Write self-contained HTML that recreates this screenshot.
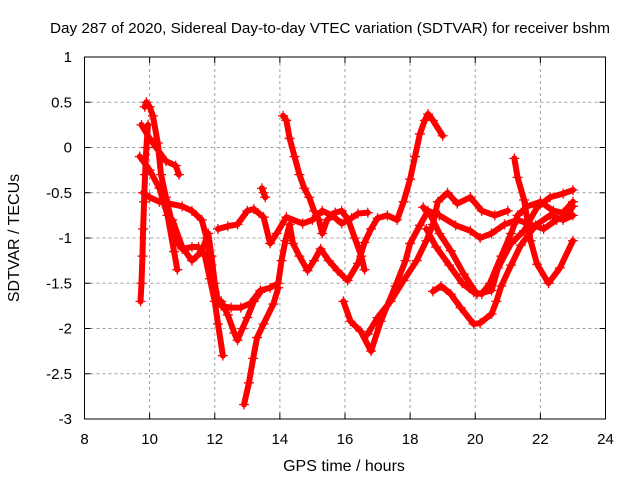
<!DOCTYPE html>
<html><head><meta charset="utf-8"><style>
body{margin:0;background:#fff;width:640px;height:480px;overflow:hidden}
svg{display:block;font-family:"Liberation Sans",sans-serif}
</style></head><body>
<svg id="chart" width="640" height="480">
<text x="330" y="33" font-size="15" text-anchor="middle" textLength="560" lengthAdjust="spacingAndGlyphs">Day 287 of 2020, Sidereal Day-to-day VTEC variation (SDTVAR) for receiver bshm</text>
<g id="grid"></g>
<g id="series"></g>
<rect x="84.5" y="57" width="521" height="362" fill="none" stroke="#000" stroke-width="1"/>
<g id="ticks"></g>
<text x="344" y="471" font-size="16" text-anchor="middle">GPS time / hours</text>
<text x="0" y="0" font-size="16" text-anchor="middle" transform="translate(19,238) rotate(-90)">SDTVAR / TECUs</text>
</svg>
<script>
const xTicks = [8,10,12,14,16,18,20,22,24];
const yTicks = [1,0.5,0,-0.5,-1,-1.5,-2,-2.5,-3];
const yTickLabels = ["1","0.5","0","-0.5","-1","-1.5","-2","-2.5","-3"];
const trackEarlyVert = [[9.72,-1.7],[9.75,-1.5],[9.78,-1.2],[9.8,-0.9],[9.83,-0.6],[9.86,-0.3],[9.9,0.0],[9.95,0.25]];
const trackHighDecline = [[9.85,0.45],[9.9,0.5],[10.0,0.45],[10.1,0.35],[10.25,0.05],[10.35,-0.3],[10.5,-0.55],[10.7,-0.85],[10.85,-1.05],[11.0,-1.12],[11.3,-1.1],[11.5,-1.1],[11.7,-1.2],[11.85,-1.45],[12.0,-1.7],[12.1,-1.95],[12.25,-2.3]];
const trackEarlyA = [[9.75,0.25],[10.0,0.1],[10.2,0.0],[10.5,-0.15],[10.8,-0.2],[10.9,-0.3]];
const trackEarlyB = [[9.7,-0.1],[10.0,-0.25],[10.3,-0.45],[10.55,-0.75],[10.75,-1.15],[10.85,-1.35]];
const trackLoop11 = [[10.7,-0.8],[11.0,-1.1],[11.3,-1.25],[11.6,-1.15],[11.8,-0.95],[11.9,-1.2],[12.0,-1.5],[12.1,-1.7]];
const trackMain = [[9.8,-0.5],[10.0,-0.55],[10.3,-0.6],[10.6,-0.62],[11.0,-0.65],[11.3,-0.7],[11.6,-0.8],[11.75,-1.0],[11.9,-1.3],[12.0,-1.6],[12.2,-1.75],[12.5,-1.77],[12.8,-1.77],[13.1,-1.72],[13.4,-1.58],[13.7,-1.55],[13.95,-1.5],[14.05,-1.25],[14.17,-1.03],[14.3,-0.85],[14.4,-1.06],[14.6,-1.2],[14.85,-1.36],[15.05,-1.25],[15.25,-1.12],[15.5,-1.25],[15.77,-1.36],[16.08,-1.47],[16.4,-1.28],[16.6,-1.05],[16.8,-0.9],[17.0,-0.78],[17.3,-0.75],[17.6,-0.8],[17.8,-0.6],[18.0,-0.35],[18.15,-0.1],[18.3,0.15],[18.45,0.3],[18.55,0.37],[18.7,0.3],[19.0,0.13]];
const trackMid = [[12.1,-0.9],[12.4,-0.87],[12.7,-0.85],[13.0,-0.7],[13.2,-0.68],[13.5,-0.77],[13.7,-1.06],[13.9,-0.95],[14.2,-0.77],[14.7,-0.84],[15.0,-0.8],[15.3,-0.7],[15.6,-0.75],[15.9,-0.84],[16.2,-0.78],[16.4,-0.73],[16.7,-0.72]];
const trackIsolated = [[13.45,-0.45],[13.5,-0.5],[13.55,-0.55]];
const trackDeep = [[12.9,-2.84],[13.05,-2.6],[13.18,-2.33],[13.3,-2.1],[13.5,-1.95],[13.8,-1.73],[13.95,-1.55]];
const trackDip127 = [[12.2,-1.7],[12.4,-1.85],[12.6,-2.05],[12.7,-2.13],[12.85,-2.0],[13.0,-1.88],[13.2,-1.7],[13.4,-1.6]];
const trackHigh14 = [[14.1,0.35],[14.2,0.3],[14.3,0.1],[14.45,-0.1],[14.6,-0.3],[14.75,-0.45],[14.9,-0.55],[15.05,-0.7],[15.2,-0.8],[15.3,-0.95],[15.45,-0.8],[15.7,-0.72],[15.9,-0.7],[16.1,-0.8],[16.3,-1.0],[16.5,-1.2],[16.6,-1.35]];
const trackDip167 = [[15.95,-1.7],[16.17,-1.92],[16.48,-2.03],[16.8,-2.25],[17.1,-1.92],[17.55,-1.53],[17.86,-1.25],[18.0,-1.06],[18.3,-0.86],[18.55,-0.7],[18.9,-0.75],[19.4,-0.86],[19.85,-0.92],[20.15,-1.0],[20.5,-0.95],[20.9,-0.85],[21.3,-0.8],[21.7,-0.85],[22.1,-0.9],[22.5,-0.8],[22.8,-0.75],[23.0,-0.65]];
const trackRise17 = [[16.7,-2.06],[17.0,-1.88],[17.4,-1.7],[17.8,-1.47],[18.2,-1.25],[18.5,-1.03],[18.7,-0.85],[18.85,-0.6],[19.15,-0.5],[19.45,-0.62],[19.85,-0.55],[20.2,-0.7],[20.6,-0.75],[21.0,-0.7]];
const trackBigV = [[18.4,-0.66],[18.6,-0.73],[18.9,-0.95],[19.25,-1.14],[19.65,-1.4],[20.05,-1.62],[20.5,-1.58],[20.7,-1.33],[21.1,-1.06],[21.5,-0.92],[21.9,-0.66],[22.3,-0.55],[22.7,-0.51],[23.0,-0.47]];
const trackV2 = [[18.5,-0.9],[18.8,-1.1],[19.2,-1.3],[19.6,-1.5],[19.95,-1.6],[20.2,-1.62],[20.45,-1.5],[20.8,-1.2],[21.1,-0.95],[21.3,-0.75],[21.6,-0.65],[22.0,-0.6],[22.4,-0.7],[22.7,-0.72],[23.0,-0.6]];
const trackLow19 = [[18.7,-1.59],[18.95,-1.53],[19.25,-1.62],[19.55,-1.77],[19.95,-1.95],[20.15,-1.94],[20.5,-1.84],[20.65,-1.7],[20.8,-1.53],[21.1,-1.3],[21.4,-1.08],[21.85,-0.86],[22.3,-0.75],[22.7,-0.8],[23.0,-0.75]];
const trackPeak21 = [[21.2,-0.12],[21.3,-0.33],[21.5,-0.58],[21.7,-1.03],[21.9,-1.29],[22.25,-1.5],[22.6,-1.33],[23.0,-1.03]];
const tracks = [trackEarlyVert,trackHighDecline,trackEarlyA,trackEarlyB,trackLoop11,trackMain,trackMid,trackIsolated,trackDeep,trackDip127,trackHigh14,trackDip167,trackRise17,trackBigV,trackV2,trackLow19,trackPeak21];

const NS="http://www.w3.org/2000/svg";
const X0=84.5,X1=605.5,Y0=57,Y1=419;
function xs(t){return X0+(t-8)/(24-8)*(X1-X0);}
function ys(v){return Y1-(v+3)/4*(Y1-Y0);}
function mk(tag,at,parent){const e=document.createElementNS(NS,tag);for(const k in at)e.setAttribute(k,at[k]);parent.appendChild(e);return e;}
const grid=document.getElementById('grid'),ticks=document.getElementById('ticks'),series=document.getElementById('series');
xTicks.forEach((t,i)=>{
  const x=xs(t);
  if(i>0&&i<xTicks.length-1){const g=mk('line',{x1:x,x2:x,y1:Y0,y2:Y1,stroke:'#a0a0a0','stroke-dasharray':'3,3','stroke-width':1},grid);
  
  }
  mk('line',{x1:x,x2:x,y1:Y1,y2:Y1-6,stroke:'#000'},ticks);
  mk('line',{x1:x,x2:x,y1:Y0,y2:Y0+6,stroke:'#000'},ticks);
  const l=mk('text',{x:x,y:444,'font-size':15,'text-anchor':'middle'},ticks);l.textContent=t;
  
  
});
yTicks.forEach((v,i)=>{
  const y=ys(v);
  if(i>0&&i<yTicks.length-1){const g=mk('line',{x1:X0,x2:X1,y1:y,y2:y,stroke:'#a0a0a0','stroke-dasharray':'3,3','stroke-width':1},grid);
  
  }
  mk('line',{x1:X0,x2:X0+6,y1:y,y2:y,stroke:'#000'},ticks);
  mk('line',{x1:X1,x2:X1-6,y1:y,y2:y,stroke:'#000'},ticks);
  const l=mk('text',{x:72,y:y+5,'font-size':15,'text-anchor':'end'},ticks);l.textContent=yTickLabels[i];
  
  
});
tracks.forEach(tr=>{
  const pl=mk('polyline',{points:tr.map(p=>xs(p[0])+','+ys(p[1])).join(' '),fill:'none',stroke:'#ff0000','stroke-width':6,'stroke-linejoin':'round','stroke-linecap':'round'},series);
  
  
  tr.forEach(p=>{
    const x=xs(p[0]),y=ys(p[1]);
    const m=mk('path',{d:`M${x-5},${y}H${x+5}M${x},${y-5}V${y+5}`,stroke:'#ff0000','stroke-width':1.3},series);
    
    
  });
});
</script>
</body></html>
